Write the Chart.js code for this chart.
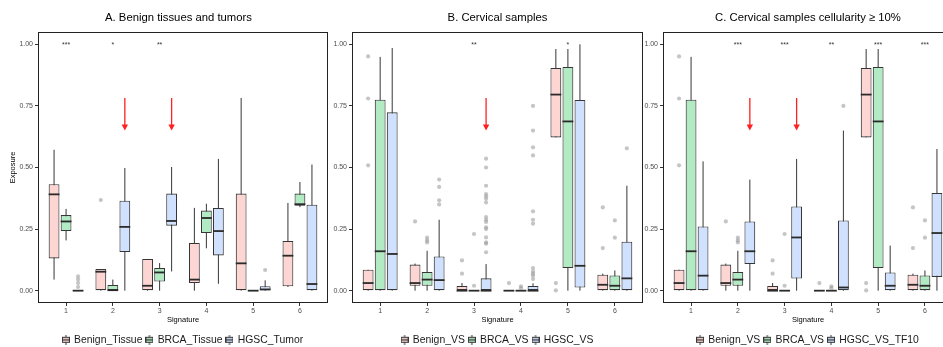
<!DOCTYPE html>
<html><head><meta charset="utf-8">
<script src="https://cdn.jsdelivr.net/npm/chart.js"></script>
<style>
html,body{margin:0;padding:0;background:#fff;width:943px;height:347px;overflow:hidden;position:relative}
canvas{position:absolute;top:0}
</style></head><body>
<canvas id="cA"></canvas><canvas id="cB"></canvas><canvas id="cC"></canvas>
<script>
// ---------- DATA ----------
const signatures = ['1','2','3','4','5','6'];
const yTicks = [0, 0.25, 0.5, 0.75, 1.0];
// each entry: [lower whisker, Q1, median, Q3, upper whisker]
const A_Benign_Tissue = [
  [0.045,0.131,0.391,0.432,0.572],
  [0.000,0.000,0.077,0.088,0.088],
  [0.000,0.000,0.020,0.129,0.129],
  [0.000,0.031,0.045,0.194,0.336],
  [0.000,0.000,0.111,0.394,0.782],
  [0.015,0.018,0.142,0.202,0.356]];
const A_Benign_Tissue_out = [[],[0.368],[],[],[],[]];
const A_BRCA_Tissue = [
  [0.204,0.242,0.281,0.307,0.332],
  [0.000,0.000,0.002,0.023,0.045],
  [0.000,0.037,0.074,0.092,0.112],
  [0.172,0.234,0.295,0.325,0.353],
  [0.000,0.000,0.000,0.000,0.000],
  [0.339,0.345,0.351,0.394,0.441]];
const A_BRCA_Tissue_out = [[],[],[],[],[],[]];
const A_HGSC_Tumor = [
  [0.000,0.000,0.000,0.000,0.000],
  [0.000,0.157,0.259,0.365,0.498],
  [0.078,0.264,0.283,0.394,0.502],
  [0.028,0.143,0.242,0.336,0.535],
  [0.000,0.000,0.005,0.018,0.042],
  [0.000,0.000,0.027,0.349,0.512]];
const A_HGSC_Tumor_out = [[0.058,0.045,0.031,0.015],[],[],[],[0.084],[]];
const A_stars = ['***','*','**','','',''];
const A_arrows = [2,3];

const Benign_VS = [
  [0.000,0.000,0.031,0.085,0.085],
  [0.000,0.020,0.031,0.106,0.110],
  [0.000,0.000,0.000,0.019,0.031],
  [0.000,0.000,0.000,0.000,0.000],
  [0.622,0.622,0.796,0.904,0.981],
  [0.000,0.000,0.024,0.065,0.069]];
const Benign_VS_out = [[0.951,0.780,0.509],[0.281],[0.123,0.069],[0.031],[0.031,0.001],[0.338,0.173]];
const BRCA_VS = [
  [0.000,0.000,0.160,0.775,0.949],
  [0.000,0.020,0.045,0.076,0.162],
  [0.000,0.000,0.000,0.000,0.000],
  [0.000,0.000,0.000,0.000,0.000],
  [0.000,0.092,0.687,0.908,0.981],
  [0.000,0.000,0.020,0.062,0.082]];
const BRCA_VS_out = [[],[0.215,0.204,0.196],[0.230,0.020],[0.018,0.010],[],[0.285,0.215]];
const HGSC_VS = [
  [0.000,0.000,0.149,0.724,0.985],
  [0.000,0.000,0.043,0.139,0.288],
  [0.000,0.000,0.000,0.050,0.108],
  [0.000,0.000,0.000,0.019,0.030],
  [0.000,0.013,0.101,0.774,1.000],
  [0.000,0.000,0.050,0.199,0.426]];
const HGSC_VS_out = [
  [],
  [0.451,0.421,0.367,0.350],
  [0.536,0.500,0.426,0.392,0.383,0.373,0.358,0.299,0.288,0.279,0.257,0.250,0.216,0.196,0.191,0.156],
  [0.750,0.650,0.582,0.549,0.322,0.288,0.272,0.092,0.078,0.069,0.061,0.047],
  [],
  [0.578]];
const B_stars = ['','','**','','*',''];
const B_arrows = [3];

const HGSC_VS_TF10 = [
  [0.000,0.000,0.061,0.261,0.525],
  [0.000,0.108,0.160,0.281,0.451],
  [0.000,0.049,0.216,0.342,0.535],
  [0.000,0.000,0.013,0.285,0.650],
  [0.000,0.000,0.020,0.074,0.183],
  [0.000,0.056,0.234,0.397,0.575]];
const HGSC_VS_TF10_out = [[],[],[],[0.750],[],[]];
const C_stars = ['','***','***','**','***','***'];
const C_arrows = [2,3];

const ARROW_FROM = 0.782, ARROW_TO = 0.650;

// ---------- STYLE ----------
const FONT = "'Liberation Sans', Arial, Helvetica, sans-serif";
const PINK = '#FDD6D3', GREEN = '#B2EAC3', BLUE = '#D0E1FF';
const EDGE = '#363636';

function glyph(fill){
  const c = document.createElement('canvas'); c.width = 8; c.height = 10;
  const g = c.getContext('2d');
  g.strokeStyle = EDGE; g.lineWidth = 1;
  g.beginPath(); g.moveTo(4, 0); g.lineTo(4, 10); g.stroke();
  g.fillStyle = fill; g.fillRect(0.5, 2.5, 7, 5);
  g.strokeRect(0.5, 2.5, 7, 5);
  g.beginPath(); g.moveTo(0.5, 5); g.lineTo(7.5, 5); g.lineWidth = 1.3; g.stroke();
  return c;
}

const boxPlugin = {
  id: 'boxExtras',
  beforeDatasetsDraw(chart) {
    const ctx = chart.ctx, ys = chart.scales.y;
    chart.data.datasets.forEach((ds, di) => {
      const meta = chart.getDatasetMeta(di);
      meta.data.forEach((el, j) => {
        const s = ds.stats[j];
        ctx.save(); ctx.strokeStyle = EDGE; ctx.lineWidth = 1;
        ctx.beginPath();
        ctx.moveTo(el.x, ys.getPixelForValue(s[0]));
        ctx.lineTo(el.x, ys.getPixelForValue(s[4]));
        ctx.stroke(); ctx.restore();
      });
    });
  },
  afterDatasetsDraw(chart, args, opts) {
    const ctx = chart.ctx, ys = chart.scales.y, xs = chart.scales.x;
    chart.data.datasets.forEach((ds, di) => {
      const meta = chart.getDatasetMeta(di);
      meta.data.forEach((el, j) => {
        const s = ds.stats[j];
        const w = el.width;
        ctx.save();
        ctx.strokeStyle = '#2a2a2a'; ctx.lineWidth = 1.8;
        ctx.beginPath();
        ctx.moveTo(el.x - w / 2, ys.getPixelForValue(s[2]));
        ctx.lineTo(el.x + w / 2, ys.getPixelForValue(s[2]));
        ctx.stroke();
        ctx.fillStyle = 'rgba(150,150,150,0.55)';
        ds.out[j].forEach(v => {
          ctx.beginPath();
          ctx.arc(el.x, ys.getPixelForValue(v), 2.1, 0, Math.PI * 2);
          ctx.fill();
        });
        ctx.restore();
      });
    });
    // significance stars
    ctx.save();
    ctx.fillStyle = '#333'; ctx.font = '7px ' + FONT;
    ctx.textAlign = 'center'; ctx.textBaseline = 'middle';
    opts.stars.forEach((t, i) => {
      if (t) ctx.fillText(t, xs.getPixelForValue(i + 1), ys.getPixelForValue(1.0) + 0.5);
    });
    ctx.restore();
    // arrows pointing at the third series
    const m3 = chart.getDatasetMeta(2);
    opts.arrows.forEach(sig => {
      const el = m3.data[sig - 1];
      const x = el.x;
      const y0 = ys.getPixelForValue(ARROW_FROM), y1 = ys.getPixelForValue(ARROW_TO);
      ctx.save();
      ctx.strokeStyle = '#ff2020'; ctx.fillStyle = '#ff2020'; ctx.lineWidth = 1.3;
      ctx.beginPath(); ctx.moveTo(x, y0); ctx.lineTo(x, y1 - 5); ctx.stroke();
      ctx.beginPath(); ctx.moveTo(x - 3.2, y1 - 6); ctx.lineTo(x + 3.2, y1 - 6); ctx.lineTo(x, y1); ctx.closePath(); ctx.fill();
      ctx.restore();
    });
    // panel border
    const a = chart.chartArea;
    ctx.save(); ctx.strokeStyle = '#222'; ctx.lineWidth = 1;
    ctx.strokeRect(Math.round(a.left) + 0.5, Math.round(a.top) + 0.5, Math.round(a.right - a.left) - 1, Math.round(a.bottom - a.top) - 1);
    ctx.restore();
  }
};

const panels = [
  {id: 'cA', left: 0, width: 357, yWidth: 38, rightPad: 29, titleFull: true,
   title: 'A. Benign tissues and tumors', yTitle: 'Exposure',
   series: [['Benign_Tissue', A_Benign_Tissue, A_Benign_Tissue_out, PINK],
            ['BRCA_Tissue', A_BRCA_Tissue, A_BRCA_Tissue_out, GREEN],
            ['HGSC_Tumor', A_HGSC_Tumor, A_HGSC_Tumor_out, BLUE]],
   stars: A_stars, arrows: A_arrows},
  {id: 'cB', left: 330, width: 313, yWidth: 22, rightPad: 0, titleFull: false,
   title: 'B. Cervical samples', yTitle: '',
   series: [['Benign_VS', Benign_VS, Benign_VS_out, PINK],
            ['BRCA_VS', BRCA_VS, BRCA_VS_out, GREEN],
            ['HGSC_VS', HGSC_VS, HGSC_VS_out, BLUE]],
   stars: B_stars, arrows: B_arrows},
  {id: 'cC', left: 643, width: 310, yWidth: 20, rightPad: 0, titleFull: false,
   title: 'C. Cervical samples cellularity \u2265 10%', yTitle: '',
   series: [['Benign_VS', Benign_VS, Benign_VS_out, PINK],
            ['BRCA_VS', BRCA_VS, BRCA_VS_out, GREEN],
            ['HGSC_VS_TF10', HGSC_VS_TF10, HGSC_VS_TF10_out, BLUE]],
   stars: C_stars, arrows: C_arrows}
];

const H = 355;
panels.forEach(p => {
  const cv = document.getElementById(p.id);
  cv.width = p.width; cv.height = H;
  cv.style.left = p.left + 'px'; cv.style.width = p.width + 'px'; cv.style.height = H + 'px';
  const datasets = p.series.map(([label, stats, out, fill]) => ({
    type: 'bar', label, stats, out, fill,
    xAxisID: 'x', yAxisID: 'y',
    data: stats.map((s, i) => ({x: i + 1, y: [s[1], s[3]]})),
    backgroundColor: fill, borderColor: EDGE, borderWidth: 1.1, borderSkipped: false,
    categoryPercentage: 0.77, barPercentage: 0.9
  }));
  const scales = {
    x: {type: 'linear', min: 0.4, max: 6.6, offset: false,
        afterBuildTicks: s => { s.ticks = signatures.map((_, i) => ({value: i + 1})); },
        ticks: {callback: v => signatures[v - 1], font: {family: FONT, size: 7}, color: '#4d4d4d', padding: 0.5, maxRotation: 0, autoSkip: false},
        grid: {display: true, offset: false, drawOnChartArea: false, drawTicks: true, tickLength: 3, tickColor: '#333', lineWidth: 1},
        border: {display: false},
        title: {display: true, text: 'Signature', font: {family: FONT, size: 7.5}, color: '#000', padding: {top: 0, bottom: 6.6}},
        afterFit: s => { s.height = 27.6; }},
    y: {type: 'linear', min: -0.05, max: 1.05,
        afterBuildTicks: s => { s.ticks = yTicks.map(v => ({value: v})); },
        ticks: {callback: v => v.toFixed(2), font: {family: FONT, size: 7}, color: '#4d4d4d', padding: 2},
        grid: {display: true, drawOnChartArea: false, drawTicks: true, tickLength: 3, tickColor: '#333', lineWidth: 1},
        border: {display: false},
        title: {display: !!p.yTitle, text: p.yTitle, font: {family: FONT, size: 7.5}, color: '#000', padding: {top: 8.2, bottom: 0}},
        afterFit: s => { s.width = p.yWidth; }}
  };
  if (p.rightPad) {
    scales.yR = {type: 'linear', position: 'right', display: true,
      grid: {display: false, drawTicks: false}, ticks: {display: false}, border: {display: false},
      afterFit: s => { s.width = p.rightPad; }};
  }
  new Chart(cv, {
    type: 'bar',
    data: {datasets},
    options: {
      responsive: false, animation: false, devicePixelRatio: 1,
      layout: {padding: 0},
      scales,
      plugins: {
        title: {display: true, text: p.title, fullSize: p.titleFull, color: '#000',
                font: {family: FONT, size: 11.3, weight: 'normal'}, padding: {top: 10.7, bottom: 7.74}},
        legend: {display: true, position: 'bottom', fullSize: false, align: 'center',
          labels: {font: {family: FONT, size: 10.4}, color: '#1a1a1a', usePointStyle: true,
                   pointStyleWidth: 6, boxHeight: 10, padding: 4,
                   generateLabels: ch => ch.data.datasets.map((ds, i) => ({
                     text: ds.label, pointStyle: glyph(ds.fill), datasetIndex: i, hidden: false,
                     fillStyle: ds.fill, strokeStyle: EDGE, lineWidth: 0, fontColor: '#1a1a1a'}))}},
        tooltip: {enabled: false},
        boxExtras: {stars: p.stars, arrows: p.arrows}
      }
    },
    plugins: [boxPlugin]
  });
});
</script>
</body></html>
